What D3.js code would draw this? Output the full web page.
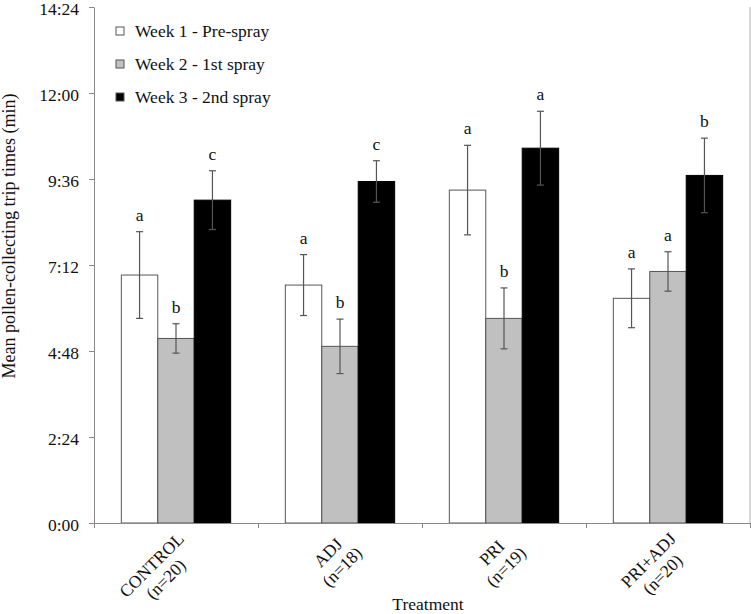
<!DOCTYPE html>
<html>
<head>
<meta charset="utf-8">
<script src="https://cdn.jsdelivr.net/npm/d3@7"></script>
<style>
  html, body { margin: 0; padding: 0; background: #fff; }
  svg { display: block; font-family: "Liberation Serif", "Times New Roman", serif; }
</style>
</head>
<body>
<svg id="chart" width="751" height="614"></svg>
<script>
// ---- data (minutes) ----
const categories = ["CONTROL", "ADJ", "PRI", "PRI+ADJ"];
const sampleSizes = ["(n=20)", "(n=18)", "(n=19)", "(n=20)"];
const seriesNames = ["Week 1 - Pre-spray", "Week 2 - 1st spray", "Week 3 - 2nd spray"];
const week1 = [6.92, 6.64, 9.29, 6.27];
const week1Err = [1.21, 0.85, 1.25, 0.82];
const week2 = [5.15, 4.93, 5.71, 7.02];
const week2Err = [0.41, 0.76, 0.85, 0.55];
const week3 = [9.01, 9.53, 10.46, 9.70];
const week3Err = [0.82, 0.58, 1.03, 1.04];
const letters1 = ["a", "a", "a", "a"];
const letters2 = ["b", "b", "b", "a"];
const letters3 = ["c", "c", "a", "b"];
const yTicks = [0, 2.4, 4.8, 7.2, 9.6, 12, 14.4];

(function () {
const fills = ["#ffffff", "#c0c0c0", "#000000"];
const values = [week1, week2, week3];
const errs = [week1Err, week2Err, week3Err];
const letters = [letters1, letters2, letters3];

const svg = d3.select("#chart");
const mLeft = 94, mRight = 750, mTop = 7, mBottom = 523;

const x = d3.scaleBand().domain(categories).range([mLeft, mRight]).paddingInner(0).paddingOuter(0);
const xSub = d3.scaleBand().domain(d3.range(3)).range([0, x.bandwidth()]).paddingInner(0).paddingOuter(0.75);
const y = d3.scaleLinear().domain([0, 14.4]).range([mBottom, mTop]);

const fmt = v => {
  const totalSec = Math.round(v * 60);
  const m = Math.floor(totalSec / 60), s = totalSec % 60;
  return m + ":" + String(s).padStart(2, "0");
};

// right frame line
svg.append("line").attr("x1", mRight).attr("x2", mRight).attr("y1", mTop).attr("y2", mBottom)
  .attr("stroke", "#b0b0b0").attr("stroke-width", 1);

// bars
const rows = [];
categories.forEach((c, ci) => {
  for (let si = 0; si < 3; si++) {
    rows.push({c, ci, si, v: values[si][ci], e: errs[si][ci], l: letters[si][ci]});
  }
});

svg.append("g").selectAll("rect").data(rows).join("rect")
  .attr("x", d => x(d.c) + xSub(d.si))
  .attr("width", xSub.bandwidth())
  .attr("y", d => y(d.v))
  .attr("height", d => y(0) - y(d.v))
  .attr("fill", d => fills[d.si])
  .attr("stroke", d => d.si === 2 ? "#000" : "#555")
  .attr("stroke-width", 1);

// error bars
const eb = svg.append("g").attr("stroke", "#555").attr("stroke-width", 1.2);
rows.forEach(d => {
  const cx = x(d.c) + xSub(d.si) + xSub.bandwidth() / 2;
  eb.append("line").attr("x1", cx).attr("x2", cx).attr("y1", y(d.v - d.e)).attr("y2", y(d.v + d.e));
  eb.append("line").attr("x1", cx - 3.5).attr("x2", cx + 3.5).attr("y1", y(d.v + d.e)).attr("y2", y(d.v + d.e));
  eb.append("line").attr("x1", cx - 3.5).attr("x2", cx + 3.5).attr("y1", y(d.v - d.e)).attr("y2", y(d.v - d.e));
});

// significance letters
svg.append("g").selectAll("text").data(rows).join("text")
  .attr("x", d => x(d.c) + xSub(d.si) + xSub.bandwidth() / 2)
  .attr("y", d => y(d.v + d.e) - 11)
  .attr("text-anchor", "middle")
  .attr("font-size", 17.5)
  .attr("fill", "#111")
  .text(d => d.l);

// y axis
const yAxis = svg.append("g").attr("transform", `translate(${mLeft},0)`)
  .call(d3.axisLeft(y).tickValues(yTicks).tickFormat(fmt).tickSize(5).tickPadding(10).tickSizeOuter(0));
yAxis.selectAll("path, line").attr("stroke", "#888");
yAxis.selectAll("text").attr("font-size", 17.5).attr("fill", "#111").attr("dy", "0.4em")
  .attr("font-family", "Liberation Serif, Times New Roman, serif");

// x axis (ticks at category boundaries)
const xb = d3.scaleLinear().domain([0, categories.length]).range([mLeft, mRight]);
const xAxis = svg.append("g").attr("transform", `translate(0,${mBottom})`)
  .call(d3.axisBottom(xb).tickValues(d3.range(categories.length + 1)).tickFormat("").tickSize(5).tickSizeOuter(0));
xAxis.selectAll("path, line").attr("stroke", "#888");

// category labels (rotated, two lines, centred block anchored at its end)
categories.forEach((c, ci) => {
  const g = svg.append("g")
    .attr("transform", `translate(${x(c) + x.bandwidth() / 2 + 9},${mBottom + 17}) rotate(-45)`)
    .attr("font-size", 17.5).attr("fill", "#111");
  const t1 = g.append("text").attr("text-anchor", "middle").text(c);
  const t2 = g.append("text").attr("text-anchor", "middle").attr("y", 20).text(sampleSizes[ci]);
  const W = Math.max(t1.node().getComputedTextLength(), t2.node().getComputedTextLength());
  t1.attr("x", -W / 2);
  t2.attr("x", -W / 2);
});

// axis titles
svg.append("text").attr("x", (mLeft + mRight) / 2 + 6).attr("y", 610)
  .attr("text-anchor", "middle").attr("font-size", 17.5).attr("fill", "#111").text("Treatment");
svg.append("text").attr("transform", "translate(15,236) rotate(-90)")
  .attr("text-anchor", "middle").attr("font-size", 18).attr("fill", "#111")
  .text("Mean pollen-collecting trip times (min)");

// legend
const lg = svg.append("g");
seriesNames.forEach((n, i) => {
  const cy = 31 + i * 33;
  lg.append("rect").attr("x", 116).attr("y", cy - 4).attr("width", 8).attr("height", 8)
    .attr("fill", fills[i]).attr("stroke", "#555").attr("stroke-width", 1);
  lg.append("text").attr("x", 135).attr("y", cy + 6).attr("font-size", 17.5).attr("fill", "#111").text(n);
});
})();
</script>
</body>
</html>
